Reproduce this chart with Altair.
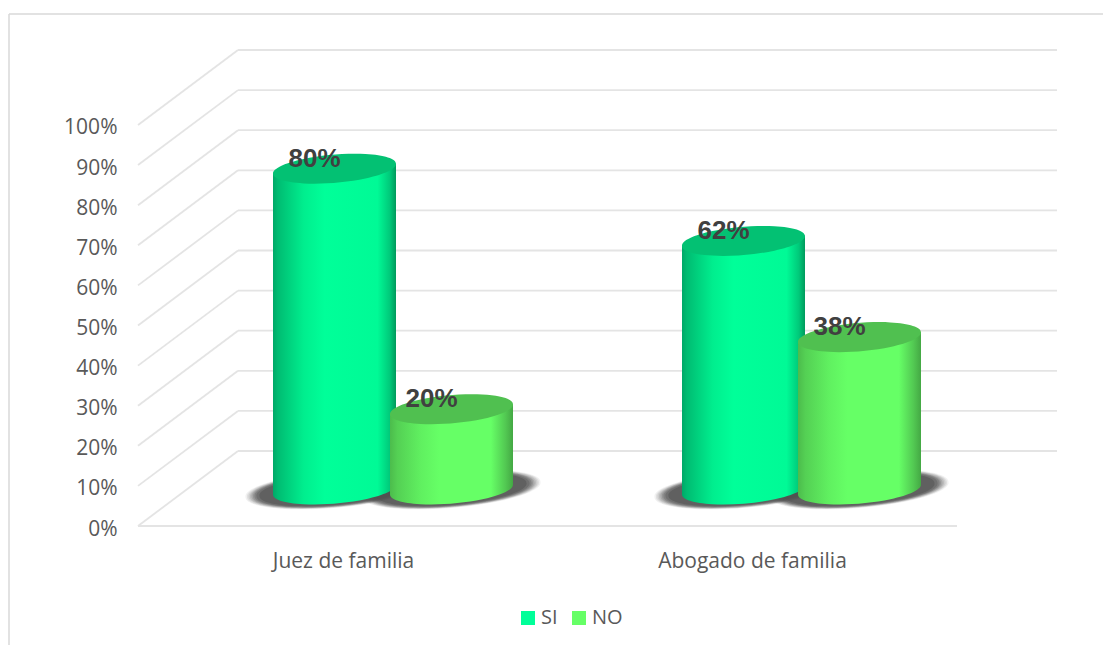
import altair as alt
import pandas as pd

# values
CATEGORIES = ["Juez de familia", "Abogado de familia"]
SERIES = ["SI", "NO"]
SI_VALUES = [0.80, 0.62]
NO_VALUES = [0.20, 0.38]
TICKS = [i / 10 for i in range(11)]

# layout in scale units
SI_LEFT = [273, 682]
NO_LEFT = [390, 798]
CAT_CENTER = [343, 752]
BAR_W = 123
X0, X1 = 138, 1057
DEPTH_X = 100
DEPTH_Y = 0.187
BASE = 0.091
TILT = 0.0125

rows, body = [], []
for c, cat in enumerate(CATEGORIES):
    for s, vals, lefts in (("SI", SI_VALUES, SI_LEFT), ("NO", NO_VALUES, NO_LEFT)):
        v, l = vals[c], lefts[c]
        rows.append(dict(cat=cat, series=s, value=v, cx=l + BAR_W / 2, top=BASE + v, base=BASE,
                         label=f"{round(v*100)}%"))
        for side, xx in ((-1, l), (1, l + BAR_W)):
            body.append(dict(cat=cat, series=s, x=xx, y=BASE + v + side * TILT, y0=BASE + side * TILT))
df = pd.DataFrame(rows)
dfb = pd.DataFrame(body)

grid = pd.DataFrame(
    [dict(x=X0 + DEPTH_X, x2=X1, y=t + DEPTH_Y, y2=t + DEPTH_Y) for t in TICKS]
    + [dict(x=X0, x2=X0 + DEPTH_X, y=t, y2=t + DEPTH_Y) for t in TICKS]
    + [dict(x=X0, x2=X1 - DEPTH_X, y=0.0, y2=0.0)]
)

FONT = "Open Sans"
GREY = "#595959"
xs = alt.Scale(domain=[X0, X1], range=[0, X1 - X0], nice=False, zero=False)
ys = alt.Scale(domain=[0, 1.187], nice=False)
XAX = alt.Axis(
    values=CAT_CENTER, title=None, domain=False, ticks=False, grid=False,
    labelFont=FONT, labelFontSize=21, labelColor=GREY, labelPadding=24, labelLimit=400,
    labelExpr=f"datum.value < 500 ? '{CATEGORIES[0]}' : '{CATEGORIES[1]}'")
YAX = alt.Axis(
    values=TICKS, format=".0%", title=None, domain=False, ticks=False, grid=False,
    labelFont=FONT, labelFontSize=21, labelColor=GREY, labelPadding=21, labelOffset=3)
X = lambda f: alt.X(f, type="quantitative", scale=xs, axis=XAX)
Y = lambda f: alt.Y(f, type="quantitative", scale=ys, axis=YAX)

ELL = "M-1,0.08 A1.0034,0.2277 -4.82 1 1 1,-0.08 A1.0034,0.2277 -4.82 1 1 -1,0.08 Z"
SHADOW = "M-1,0.085 A1.004,0.2 -4.9 1 1 1,-0.085 A1.004,0.2 -4.9 1 1 -1,0.085 Z"


def grad(stops):
    return alt.LinearGradient(
        gradient="linear", x1=0, x2=1, y1=0, y2=0,
        stops=[alt.GradientStop(offset=o, color=c) for o, c in stops],
    )


GRAD = {
    "SI": grad([(0, "#00A868"), (0.04, "#00BC72"), (0.25, "#00EE8E"), (0.42, "#00FF99"),
                (0.85, "#00FA96"), (0.95, "#00C97A"), (1, "#009A5C")]),
    "NO": grad([(0, "#4CBC4C"), (0.06, "#54D054"), (0.25, "#60F060"), (0.4, "#66FF66"),
                (0.82, "#66FF66"), (0.94, "#52C852"), (1, "#44A844")]),
}
TOPC = {"SI": "#03C173", "NO": "#50C050"}

frame = (
    alt.Chart(pd.DataFrame({"a": [0]})).mark_rule(color="#D9D9D9", strokeWidth=1.5)
    .encode(x=alt.value(-129), x2=alt.value(973), y=alt.value(-36))
    + alt.Chart(pd.DataFrame({"a": [0]})).mark_rule(color="#D9D9D9", strokeWidth=1.5)
    .encode(x=alt.value(-129), y=alt.value(-36), y2=alt.value(595))
)

grid_l = alt.Chart(grid).mark_rule(color="#E4E4E4", strokeWidth=1.8).encode(
    x=X("x"), x2="x2", y=Y("y"), y2="y2")

layers = [frame, grid_l]

# soft shadows under cylinders
for s, op in ((178, 0.08), (175, 0.1), (172, 0.12), (169, 0.14), (166, 0.18), (163, 0.22), (160, 0.28), (156, 0.35), (150, 0.5)):
    layers.append(
        alt.Chart(df).mark_point(shape=SHADOW, filled=True, fill="#505050", strokeWidth=0,
                                 size=s * s, opacity=op)
        .encode(x=X("cx"), y=Y("base"))
    )

for s in SERIES:
    d = df[df.series == s]
    b = dfb[dfb.series == s]
    layers.append(
        alt.Chart(d).mark_point(shape=ELL, filled=True, fill=GRAD[s], strokeWidth=0,
                                size=BAR_W * BAR_W, opacity=1)
        .encode(x=X("cx"), y=Y("base"))
    )
    layers.append(
        alt.Chart(b).mark_area(fill=GRAD[s], opacity=1)
        .encode(x=X("x"), y=Y("y"), y2="y0", detail="cat:N")
    )
    layers.append(
        alt.Chart(d).mark_point(shape=ELL, filled=True, fill=TOPC[s], strokeWidth=0,
                                size=BAR_W * BAR_W, opacity=1)
        .encode(x=X("cx"), y=Y("top"))
    )

labels = alt.Chart(df).mark_text(
    font="Liberation Sans", fontWeight="bold", fontSize=26, color="#404040",
    dx=-20, dy=-10, baseline="middle", align="center"
).encode(x=X("cx"), y=Y("top"), text="label:N")
layers.append(labels)

legend = alt.Chart(df).mark_square(size=1, opacity=0).encode(
    x=X("cx"), y=Y("base"),
    color=alt.Color("series:N",
                    scale=alt.Scale(domain=SERIES, range=["#00FF99", "#66FF66"]),
                    legend=alt.Legend(
                        title=None, orient="none", legendX=380, legendY=558, direction="horizontal",
                        symbolType="square", symbolSize=196, symbolOpacity=1, symbolStrokeWidth=0,
                        labelFont=FONT, labelFontSize=20, labelColor=GREY, columnPadding=11,
                        labelOffset=3)),
)
layers.append(legend)

chart = (
    alt.layer(*layers)
    .properties(width=X1 - X0, height=476,
                autosize=alt.AutoSizeParams(type="none"),
                padding={"left": 130, "top": 42, "right": 46, "bottom": 119},
                background="white")
    .configure_view(stroke=None)
)
chart.save("out.html", embed_options={"renderer": "svg", "actions": False})
